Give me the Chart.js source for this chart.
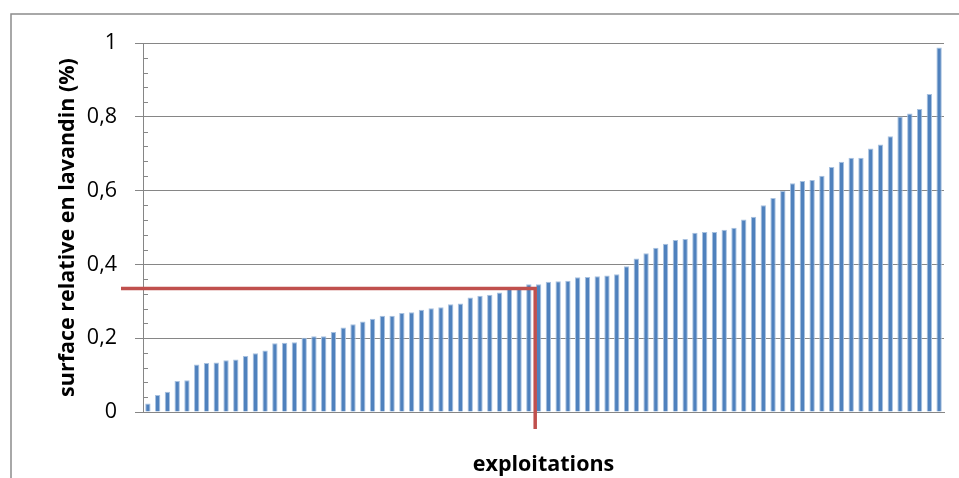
<!DOCTYPE html>
<html>
<head>
<meta charset="utf-8">
<script src="https://cdn.jsdelivr.net/npm/chart.js@4.4.1/dist/chart.umd.min.js"></script>
<style>
  html, body { margin: 0; padding: 0; background: #fff; }
  #wrap { width: 959px; height: 478px; }
</style>
</head>
<body>
<div id="wrap"><canvas id="myChart" width="959" height="478"></canvas></div>
<script>
// share of lavandin area per farm, sorted ascending
const shares = [
    0.023, 0.046, 0.055, 0.084, 0.086, 0.129, 0.133, 0.134, 0.140, 0.142,
    0.152, 0.159, 0.167, 0.186, 0.188, 0.189, 0.201, 0.205, 0.205, 0.217,
    0.229, 0.238, 0.245, 0.253, 0.261, 0.261, 0.268, 0.270, 0.277, 0.281,
    0.284, 0.292, 0.294, 0.310, 0.315, 0.318, 0.324, 0.334, 0.335, 0.346,
    0.346, 0.353, 0.354, 0.356, 0.365, 0.366, 0.368, 0.370, 0.373, 0.395,
    0.416, 0.430, 0.445, 0.456, 0.466, 0.469, 0.486, 0.488, 0.488, 0.494,
    0.499, 0.522, 0.529, 0.560, 0.580, 0.599, 0.620, 0.626, 0.629, 0.640,
    0.664, 0.678, 0.689, 0.689, 0.714, 0.725, 0.747, 0.801, 0.809, 0.821,
    0.862, 0.988
];
const farms = shares.map((_, i) => String(i + 1));
const yTicks = [0, 0.2, 0.4, 0.6, 0.8, 1];
// median marker: value and position (between farm 40 and 41)
const medianValue = [0.335];
const medianIndex = [39.65];

const grey = '#868686';

const decorations = {
    id: 'decorations',
    beforeDraw(chart) {
        const c = chart.ctx;
        c.save();
        c.strokeStyle = '#8c8c8c';
        c.lineWidth = 1.5;
        c.strokeRect(11, 14, 1000, 1000);
        c.restore();
    },
    afterDatasetsDraw(chart) {
        const c = chart.ctx;
        const x = chart.scales.x, y = chart.scales.y, area = chart.chartArea;
        c.save();
        // minor ticks on the y axis
        c.strokeStyle = grey;
        c.lineWidth = 1;
        for (let k = 1; k < 25; k++) {
            if (k % 5 === 0) continue;
            const py = Math.round(y.getPixelForValue(k * 0.04)) + 0.5;
            c.beginPath();
            c.moveTo(area.left, py);
            c.lineTo(area.left + 5, py);
            c.stroke();
        }
        // red median lines
        const py = y.getPixelForValue(medianValue[0]);
        const px = x.getPixelForValue(Math.floor(medianIndex[0])) +
            (medianIndex[0] - Math.floor(medianIndex[0])) * (x.getPixelForValue(1) - x.getPixelForValue(0));
        c.strokeStyle = '#C0504D';
        c.lineWidth = 3.5;
        c.beginPath();
        c.moveTo(area.left - 22, py);
        c.lineTo(px, py);
        c.lineTo(px, area.bottom + 17);
        c.stroke();
        c.restore();
    }
};

const ctx = document.getElementById('myChart').getContext('2d');
const myChart = new Chart(ctx, {
    type: 'bar',
    data: {
        labels: farms,
        datasets: [
            {
                label: 'surface relative en lavandin',
                data: shares,
                backgroundColor: '#4F81BD',
                borderColor: '#A9C2E0',
                borderWidth: 1,
                barPercentage: 0.55,
                categoryPercentage: 1
            }
        ]
    },
    options: {
        responsive: false,
        animation: false,
        layout: { padding: { left: 0, right: 15, top: 43, bottom: 0 } },
        plugins: { legend: { display: false }, tooltip: { enabled: false } },
        scales: {
            x: {
                grid: { display: false },
                border: { display: true, color: grey, width: 1 },
                ticks: { display: false },
                title: {
                    display: true,
                    text: 'exploitations',
                    color: '#000',
                    font: { family: 'Open Sans', size: 21.5, weight: 'bold' },
                    padding: { top: 0, bottom: 0 }
                },
                afterFit(scale) { scale.height = 66; }
            },
            y: {
                min: 0,
                max: 1,
                afterBuildTicks(scale) { scale.ticks = yTicks.map(v => ({ value: v })); },
                grid: { color: grey, lineWidth: 1, tickLength: 8, tickColor: grey },
                border: { display: true, color: grey, width: 1 },
                ticks: {
                    color: '#000',
                    padding: 18,
                    font: { family: 'Open Sans', size: 21.5 },
                    callback: v => String(v).replace('.', ',')
                },
                title: {
                    display: true,
                    text: 'surface relative en lavandin (%)',
                    color: '#000',
                    font: { family: 'Open Sans', size: 21.5, weight: 'bold' },
                    padding: { top: 55, bottom: 0 }
                },
                afterFit(scale) { scale.width = 143; }
            }
        }
    },
    plugins: [decorations]
});
</script>
</body>
</html>
